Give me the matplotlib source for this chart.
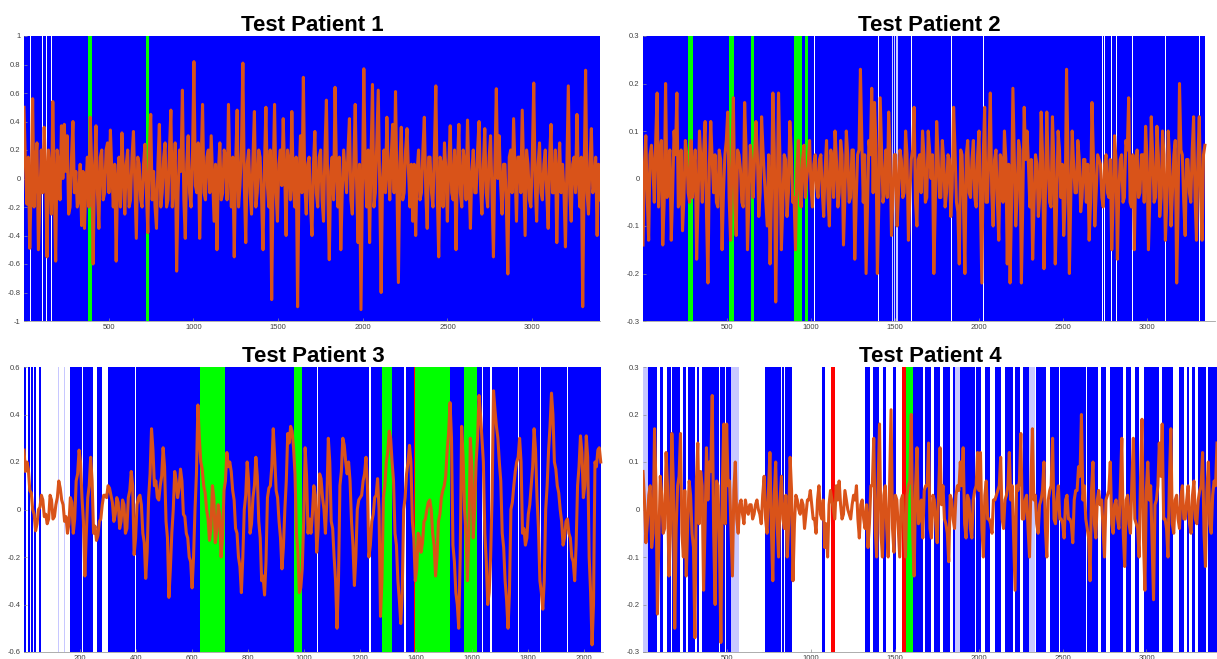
import numpy as np
import matplotlib
matplotlib.use('Agg')
from matplotlib import pyplot as plt

plt.rcParams['font.family'] = ['Liberation Sans', 'DejaVu Sans']
plt.rcParams['axes.unicode_minus'] = False

titles = ['Test Patient 1', 'Test Patient 2', 'Test Patient 3', 'Test Patient 4']

# signal samples (evenly spaced over each recording)
p1_len = 3400
p1 = [0.50, -0.18, -0.49, 0.56, 0.10, -0.50, 0.20, 0.36, -0.55, 0.05,
      0.54, -0.58, 0.10, 0.37, 0.38, 0.30, -0.20, 0.40, 0.05, -0.15,
      -0.33, -0.35, 0.15, 0.43, -0.60, 0.37, -0.35, 0.20, -0.10, 0.25,
      0.34, -0.20, -0.58, 0.15, 0.32, -0.25, 0.20, -0.15, 0.33, -0.42,
      0.10, -0.20, 0.24, -0.38, 0.45, 0.05, -0.35, 0.38, -0.10, 0.25,
      -0.15, 0.48, 0.00, -0.65, 0.20, 0.62, -0.42, 0.30, -0.20, 0.82,
      -0.10, -0.42, 0.52, -0.15, 0.20, 0.30, -0.30, -0.50, 0.25, -0.10,
      0.15, 0.52, -0.20, -0.55, 0.48, -0.05, 0.81, -0.45, 0.20, -0.25,
      0.47, -0.10, 0.15, -0.50, 0.50, -0.20, -0.85, 0.52, -0.30, 0.20,
      0.42, -0.40, 0.10, 0.47, -0.20, -0.90, 0.30, 0.71, -0.25, 0.15,
      -0.40, 0.33, -0.20, 0.20, -0.30, 0.55, -0.57, 0.15, 0.64, -0.20,
      -0.50, 0.20, -0.10, 0.42, -0.25, 0.52, -0.45, -0.92, 0.77, -0.20,
      -0.45, 0.66, -0.10, 0.62, -0.80, 0.20, 0.43, -0.15, 0.38, 0.61,
      -0.73, 0.36, -0.10, 0.35, -0.20, -0.30, -0.40, 0.20, -0.10, 0.43,
      -0.35, 0.15, -0.20, 0.65, -0.55, 0.10, 0.25, -0.30, 0.37, -0.15,
      -0.50, 0.38, -0.20, 0.10, 0.41, -0.35, 0.20, -0.10, 0.40, -0.25,
      0.35, -0.20, 0.30, -0.55, 0.63, 0.30, -0.25, 0.10, -0.67, 0.20,
      0.42, -0.30, 0.15, 0.48, -0.40, 0.10, -0.20, 0.67, -0.30, 0.25,
      -0.15, 0.20, -0.35, 0.38, -0.10, -0.45, 0.25, 0.10, -0.48, 0.65,
      -0.30, 0.15, 0.45, -0.20, -0.90, 0.76, -0.25, 0.35, -0.05, -0.40, -0.15]
# samples lying between the ones above
p1_mid = [0.10, 0.15, -0.05, -0.20, 0.25, -0.15, -0.10, 0.05, 0.20, -0.25,
          -0.05, 0.20, -0.15, 0.00, 0.05, -0.25, 0.15, -0.10, -0.20, 0.10,
          0.05, -0.05, -0.20, 0.10, 0.05, -0.10, 0.15, -0.15, 0.20, -0.10,
          0.05, 0.10, 0.00, -0.20, 0.05, 0.10, -0.20, 0.15, -0.05, 0.15,
          -0.15, 0.10, -0.10, 0.20, -0.15, -0.20, 0.10, -0.20, 0.15, -0.20,
          0.20, -0.20, 0.25, -0.10, 0.05, -0.15, 0.10, -0.10, 0.15, -0.05,
          0.25, 0.10, -0.10, 0.15, -0.10, 0.00, 0.10, 0.05, -0.15, 0.20,
          -0.15, 0.05, 0.15, 0.10, -0.20, 0.20, -0.05, 0.10, -0.10, 0.15,
          -0.20, 0.20, -0.15, 0.10, -0.05, 0.20, 0.00, -0.10, 0.10, -0.05,
          0.05, 0.20, -0.15, -0.05, 0.15, 0.00, -0.10, -0.05, 0.10, -0.20,
          0.10, -0.10, 0.15, -0.15, 0.20, -0.10, 0.05, -0.15, 0.05, 0.15,
          -0.10, 0.05, 0.20, -0.15, 0.10, -0.05, 0.10, -0.10, 0.05, 0.20,
          0.15, -0.20, 0.25, -0.05, 0.00, -0.10, 0.05, 0.15, -0.10, -0.05,
          0.10, -0.15, 0.20, 0.05, 0.10, 0.10, 0.05, -0.15, 0.20, -0.10,
          0.15, -0.10, 0.20, -0.10, 0.15, -0.20, 0.05, 0.10, -0.10, 0.20,
          0.10, -0.10, 0.20, -0.15, 0.00, 0.05, -0.10, 0.20, -0.05, 0.10,
          -0.10, 0.15, -0.10, 0.10, 0.00, -0.05, 0.10, -0.20, 0.15, -0.10,
          0.05, 0.15, -0.10, 0.05, 0.20, -0.15, 0.15, -0.05, 0.10, -0.10,
          0.10, -0.10, 0.15, -0.10, 0.20, 0.05, -0.10, -0.10, 0.10, -0.10,
          0.10, -0.10, 0.00, 0.15, 0.05, -0.10, 0.10, -0.10, 0.15, 0.10]

p2_len = 3345
p2 = [-0.14, 0.09, -0.13, 0.07, -0.05, 0.18, 0.05, -0.14, 0.20, 0.02,
      -0.13, 0.10, 0.18, -0.05, -0.11, 0.08, -0.03, 0.08, 0.02, -0.17,
      0.10, -0.05, 0.12, -0.22, 0.12, -0.03, -0.05, 0.06, -0.15, 0.05,
      0.14, -0.13, 0.17, -0.12, 0.05, -0.05, 0.16, -0.15, 0.07, -0.04,
      0.12, -0.08, 0.13, 0.00, -0.10, -0.18, 0.18, -0.26, 0.18, -0.15,
      0.05, -0.08, 0.12, -0.05, -0.15, 0.08, -0.06, 0.07, 0.00, 0.08,
      -0.06, 0.05, -0.04, 0.05, -0.08, 0.08, -0.10, 0.04, 0.10, -0.06,
      0.08, -0.14, 0.10, -0.05, 0.06, -0.17, 0.05, 0.23, -0.05, -0.20,
      0.08, 0.19, 0.16, -0.20, 0.17, -0.05, 0.06, 0.14, -0.12, 0.05,
      -0.10, 0.06, -0.04, 0.10, -0.13, 0.04, 0.15, -0.10, 0.05, 0.10,
      -0.05, 0.10, 0.00, -0.20, 0.12, -0.04, 0.08, -0.06, 0.05, -0.08,
      0.15, -0.05, -0.18, 0.05, -0.20, 0.08, -0.04, 0.08, -0.06, 0.10,
      -0.22, 0.15, -0.05, 0.18, -0.10, 0.06, -0.13, 0.04, 0.10, -0.18,
      -0.22, 0.19, -0.10, 0.08, -0.22, 0.15, 0.10, -0.06, -0.17, 0.05,
      -0.08, 0.14, -0.19, 0.14, -0.05, 0.13, -0.18, 0.10, -0.04, -0.12,
      0.23, -0.20, 0.10, -0.03, 0.08, -0.07, 0.04, -0.05, -0.13, 0.16,
      -0.10, 0.05, 0.03, -0.06, 0.05, -0.04, -0.15, 0.09, -0.17, 0.04,
      -0.05, 0.08, 0.17, -0.06, -0.15, 0.06, -0.03, 0.05, 0.11, -0.15,
      0.13, -0.05, 0.11, -0.08, 0.10, -0.13, 0.10, -0.10, 0.05, -0.22,
      0.20, 0.05, -0.12, 0.04, -0.05, 0.13, -0.13, 0.13, -0.13, 0.07]
p2_mid = [0.03, -0.04, 0.05, 0.02, 0.08, -0.06, 0.08, -0.05, -0.04, 0.06,
          -0.03, 0.05, -0.06, 0.06, -0.04, 0.05, -0.05, -0.04, 0.06, -0.05,
          0.04, 0.06, -0.08, 0.03, 0.04, 0.05, -0.06, 0.04, -0.03, 0.08,
          -0.04, 0.05, -0.05, 0.06, 0.02, -0.06, 0.06, -0.05, 0.03, 0.04,
          0.05, -0.03, 0.06, -0.05, 0.05, -0.04, 0.06, -0.05, 0.04, -0.06,
          0.04, -0.03, 0.06, -0.04, 0.02, -0.03, 0.04, -0.04, 0.03, -0.02,
          0.03, -0.02, 0.04, -0.03, 0.02, -0.04, 0.06, -0.04, 0.04, -0.03,
          0.05, -0.04, 0.05, -0.04, 0.06, -0.05, 0.06, 0.08, 0.05, -0.06,
          0.05, -0.03, 0.07, -0.06, 0.06, -0.02, -0.04, 0.05, -0.04, 0.05,
          -0.03, 0.04, -0.03, 0.05, -0.04, 0.06, -0.05, 0.04, -0.03, 0.05,
          -0.04, 0.06, 0.05, -0.06, 0.05, -0.04, 0.04, -0.03, 0.04, -0.02,
          0.06, -0.07, 0.06, -0.06, 0.05, -0.03, 0.04, -0.04, 0.05, -0.06,
          0.05, -0.05, 0.06, -0.03, 0.04, -0.05, 0.05, -0.05, 0.04, 0.03,
          -0.06, 0.05, -0.04, 0.06, -0.05, 0.04, 0.03, 0.04, -0.05, 0.03,
          -0.04, 0.05, -0.04, 0.03, -0.06, 0.04, -0.05, 0.06, 0.03, -0.05,
          0.05, -0.04, 0.03, -0.03, 0.04, -0.04, 0.04, 0.03, -0.05, 0.05,
          -0.03, 0.04, -0.04, 0.03, -0.03, 0.04, -0.05, 0.04, -0.03, 0.05,
          -0.04, 0.06, -0.05, 0.05, 0.03, -0.04, 0.05, -0.05, 0.04, -0.04,
          0.05, -0.04, 0.05, -0.04, 0.05, -0.05, 0.04, -0.03, 0.08, -0.06,
          0.06, -0.05, 0.04, -0.03, 0.06, -0.04, 0.04, -0.04, 0.05]

p3_len = 2060
p3 = [0.25, 0.20, 0.08, 0.00, -0.09, 0.00, 0.06, -0.03, -0.06, 0.06,
      -0.04, 0.02, 0.12, 0.04, -0.05, -0.10, 0.05, -0.10, 0.12, 0.25,
      0.05, -0.28, 0.05, 0.22, -0.10, -0.13, -0.05, 0.02, 0.06, 0.10,
      0.06, -0.05, 0.05, -0.08, 0.04, -0.10, 0.05, 0.16, -0.19, 0.02,
      0.06, -0.10, -0.29, 0.05, 0.34, 0.10, 0.05, 0.10, 0.26, -0.05,
      -0.37, -0.10, 0.16, 0.05, 0.17, -0.02, -0.10, -0.20, -0.33, 0.00,
      0.44, 0.20, 0.10, 0.00, -0.13, 0.10, -0.14, 0.02, -0.20, 0.08,
      0.24, 0.20, 0.08, -0.08, -0.20, -0.35, 0.00, 0.20, -0.10, 0.05,
      0.22, -0.05, -0.30, -0.36, 0.05, 0.10, 0.34, 0.08, -0.05, -0.25,
      0.00, 0.32, 0.35, 0.26, -0.10, -0.35, -0.25, 0.26, -0.10, -0.10,
      0.10, -0.18, 0.15, 0.05, -0.10, 0.30, -0.05, -0.20, -0.50, 0.10,
      0.30, 0.20, 0.20, -0.05, -0.32, 0.00, 0.05, 0.12, 0.22, -0.20,
      -0.05, 0.05, 0.13, -0.45, 0.05, 0.20, 0.33, 0.20, -0.10, -0.30,
      -0.48, 0.00, 0.15, 0.27, -0.05, -0.30, -0.10, -0.18, -0.05, 0.00,
      0.04, -0.10, -0.28, -0.05, 0.05, 0.10, 0.25, 0.45, -0.15, -0.35,
      -0.50, 0.35, 0.00, -0.30, 0.30, -0.12, 0.20, 0.48, 0.30, -0.10,
      -0.40, -0.20, 0.50, 0.35, 0.20, -0.10, -0.30, -0.50, 0.00, 0.10,
      0.20, 0.30, -0.10, -0.15, -0.02, 0.10, 0.34, 0.05, -0.30, -0.42,
      0.00, 0.25, 0.49, 0.20, 0.10, 0.00, -0.15, -0.05, -0.10, -0.20,
      -0.30, 0.10, 0.31, 0.05, 0.31, -0.20, -0.57, 0.20, 0.25, 0.20]
p3_mid = [0.16, 0.17, 0.07, -0.02, -0.06, 0.01, 0.04, -0.02, -0.04, 0.04,
          -0.03, 0.05, 0.09, 0.02, -0.03, -0.06, 0.03, -0.04, 0.15, 0.20,
          -0.05, -0.10, 0.10, 0.12, -0.07, -0.11, -0.04, 0.06, 0.05, 0.09,
          0.03, -0.02, 0.03, -0.05, 0.02, -0.08, 0.08, 0.10, -0.12, 0.05,
          0.02, -0.14, -0.18, 0.15, 0.25, 0.12, 0.04, 0.14, 0.18, -0.12,
          -0.25, 0.00, 0.12, 0.09, 0.12, -0.03, -0.12, -0.22, -0.20, 0.15,
          0.30, 0.17, 0.07, -0.04, -0.08, 0.05, -0.09, -0.02, -0.12, 0.12,
          0.18, 0.16, 0.04, -0.10, -0.24, -0.20, 0.06, 0.12, -0.06, 0.10,
          0.14, -0.12, -0.28, -0.22, 0.09, 0.18, 0.22, 0.05, -0.12, -0.16,
          0.12, 0.28, 0.33, 0.15, -0.18, -0.33, -0.05, 0.14, -0.04, -0.02,
          0.06, -0.08, 0.13, 0.00, 0.04, 0.20, -0.08, -0.30, -0.30, 0.16,
          0.27, 0.15, 0.12, -0.15, -0.20, 0.04, 0.06, 0.15, 0.10, -0.15,
          -0.02, 0.06, 0.00, -0.30, 0.10, 0.24, 0.30, 0.12, -0.15, -0.38,
          -0.35, 0.05, 0.20, 0.20, -0.12, -0.25, -0.12, -0.14, -0.04, 0.03,
          0.00, -0.15, -0.20, -0.02, 0.08, 0.14, 0.32, 0.30, -0.22, -0.40,
          -0.20, 0.22, -0.10, -0.10, 0.18, 0.00, 0.30, 0.40, 0.20, -0.22,
          -0.35, 0.05, 0.42, 0.30, 0.12, -0.16, -0.38, -0.35, 0.03, 0.16,
          0.22, 0.20, -0.08, -0.12, 0.02, 0.18, 0.25, -0.08, -0.35, -0.30,
          0.10, 0.35, 0.40, 0.17, 0.07, -0.05, -0.12, -0.04, -0.12, -0.22,
          -0.15, 0.18, 0.24, 0.10, 0.22, -0.35, -0.40, 0.18, 0.26]

p4_len = 3420
p4 = [0.08, -0.07, 0.03, -0.08, 0.17, -0.22, 0.07, -0.05, 0.12, -0.14,
      0.16, -0.25, 0.05, 0.16, -0.10, -0.14, 0.06, -0.05, -0.27, 0.14,
      0.08, -0.17, 0.13, 0.10, 0.24, -0.20, 0.05, -0.28, 0.18, 0.18,
      0.06, -0.14, 0.10, -0.05, 0.02, -0.03, 0.00, 0.01, -0.02, 0.01,
      0.00, -0.03, 0.07, -0.05, 0.12, -0.15, 0.10, -0.10, 0.07, -0.04,
      -0.10, 0.11, -0.15, 0.03, 0.00, 0.02, -0.04, 0.02, 0.04, -0.02,
      -0.05, 0.05, -0.02, -0.08, -0.10, 0.04, 0.00, 0.05, 0.06, -0.02,
      0.04, 0.00, -0.02, 0.03, 0.05, -0.06, 0.02, -0.04, -0.08, 0.05,
      0.15, -0.10, 0.18, -0.10, 0.05, -0.10, 0.21, -0.09, 0.02, -0.10,
      0.03, -0.10, 0.05, 0.20, -0.14, 0.13, -0.02, -0.06, 0.05, 0.14,
      -0.06, 0.02, -0.07, 0.13, 0.05, -0.03, -0.11, 0.02, -0.04, 0.05,
      0.10, 0.13, -0.06, 0.02, -0.06, 0.04, 0.12, 0.12, -0.10, 0.06,
      -0.02, -0.05, 0.02, 0.04, 0.11, -0.04, 0.03, 0.12, 0.05, -0.17,
      0.04, 0.16, -0.02, 0.03, -0.10, 0.17, 0.03, -0.05, 0.02, 0.10,
      -0.10, 0.04, 0.15, -0.03, 0.05, -0.02, -0.06, 0.03, -0.02, -0.07,
      0.04, 0.09, 0.20, 0.05, -0.04, -0.15, 0.10, -0.06, 0.04, 0.02,
      -0.10, 0.03, 0.10, -0.05, 0.02, -0.04, 0.15, -0.12, 0.03, -0.05,
      0.15, -0.03, -0.10, 0.19, -0.17, 0.10, 0.05, -0.19, 0.02, 0.14,
      0.18, -0.02, -0.10, 0.17, -0.05, 0.03, -0.04, 0.05, -0.02, 0.05,
      -0.05, 0.06, -0.03, 0.04, 0.12, -0.12, 0.10, -0.05, 0.06, 0.14]
p4_mid = [0.02, -0.03, 0.05, -0.05, 0.05, -0.06, 0.03, -0.04, 0.05, -0.05,
          0.06, -0.04, 0.07, -0.05, 0.04, -0.03, 0.03, -0.08, 0.06, -0.03,
          0.05, -0.04, 0.02, 0.08, -0.05, 0.06, -0.07, 0.05, -0.03, 0.05,
          -0.04, 0.04, -0.02, 0.01, -0.01, 0.02, -0.01, 0.01, -0.01, 0.02,
          -0.01, 0.03, -0.02, 0.04, -0.04, 0.03, -0.03, 0.02, -0.02, 0.03,
          -0.03, 0.04, -0.03, 0.02, -0.01, 0.01, -0.01, 0.02, 0.01, -0.02,
          0.02, -0.01, 0.02, -0.03, 0.01, 0.02, -0.02, 0.02, 0.01, -0.01,
          0.02, -0.01, 0.01, 0.02, -0.02, 0.01, -0.02, 0.01, -0.03, 0.05,
          -0.04, 0.05, -0.05, 0.03, -0.04, 0.06, -0.04, 0.03, -0.04, 0.02,
          -0.04, 0.03, 0.06, -0.05, 0.05, -0.03, 0.02, 0.04, 0.05, -0.04,
          0.03, -0.03, 0.04, 0.01, -0.02, -0.05, 0.03, -0.02, 0.03, 0.04,
          0.05, -0.03, 0.03, -0.04, 0.02, 0.05, 0.04, -0.04, 0.03, -0.02,
          -0.03, 0.02, 0.03, 0.05, -0.02, 0.02, 0.05, 0.02, -0.06, 0.05,
          0.06, -0.02, 0.02, -0.04, 0.06, 0.02, -0.03, 0.01, 0.04, -0.04,
          0.02, 0.05, -0.02, 0.02, -0.02, -0.03, 0.02, -0.02, -0.03, 0.02,
          0.04, 0.07, 0.02, -0.02, -0.06, 0.04, -0.03, 0.02, 0.01, -0.04,
          0.02, 0.04, -0.03, 0.01, -0.02, 0.05, -0.05, 0.02, -0.03, 0.06,
          -0.02, -0.04, 0.07, -0.06, 0.04, 0.02, -0.07, 0.01, 0.05, 0.07,
          -0.02, -0.04, 0.06, -0.03, 0.02, -0.02, 0.03, -0.02, 0.02, -0.03,
          0.03, -0.02, 0.02, 0.05, -0.05, 0.04, -0.03, 0.03, 0.05]

# state labels over time: blue / green / red spans, pale = faint label
p1_blue = [(0, 37), (41, 108), (112, 131), (135, 161), (165, 259), (263, 378),
           (402, 718), (737, 3400)]
p1_green = [(378, 402), (718, 737)]
p1_red = []
p1_pale = []

p2_blue = [(0, 40), (44, 992), (996, 1018), (1022, 1047), (1051, 1190), (1194, 1385),
           (1389, 1401), (1405, 1482), (1490, 1495), (1502, 1508), (1520, 1597),
           (1601, 1611), (1615, 1835), (1839, 2024), (2028, 2665), (2669, 2734),
           (2738, 2744), (2748, 2768), (2771, 2788), (2791, 2818), (2821, 2837),
           (2840, 2913), (2917, 3109), (3113, 3155), (3158, 3208), (3211, 3309),
           (3313, 3345)]
p2_green = [(270, 300), (514, 542), (645, 663), (901, 950), (964, 982)]
p2_red = []
p2_pale = [(1482, 1520)]

p3_blue = [(0, 8), (14, 21), (27, 33), (38, 45), (53, 61), (166, 208), (212, 246),
           (262, 279), (300, 398), (402, 628), (719, 966), (992, 1047), (1051, 1234),
           (1238, 1279), (1315, 1359), (1363, 1392), (1523, 1570), (1618, 1636),
           (1640, 1666), (1670, 1763), (1767, 1842), (1846, 1938), (1942, 2060)]
p3_green = [(628, 719), (966, 992), (1279, 1315), (1396, 1523), (1570, 1618)]
p3_red = [(1392, 1396)]
p3_pale = [(121, 125), (145, 149)]

p4_blue = [(32, 58), (62, 87), (105, 121), (141, 167), (175, 224), (240, 256),
           (270, 311), (323, 335), (351, 381), (383, 421), (423, 456), (458, 491),
           (493, 528), (730, 773), (777, 803), (807, 823), (827, 843), (847, 863),
           (867, 891), (1070, 1083), (1321, 1355), (1371, 1407), (1431, 1450),
           (1490, 1510), (1608, 1669), (1679, 1718), (1732, 1772), (1788, 1827),
           (1847, 1857), (1887, 1976), (1986, 2016), (2036, 2065), (2095, 2135),
           (2155, 2204), (2214, 2244), (2264, 2303), (2343, 2403), (2423, 2481),
           (2483, 2561), (2563, 2641), (2643, 2710), (2730, 2760), (2780, 2859),
           (2879, 2909), (2929, 2958), (2988, 3077), (3093, 3157), (3196, 3226),
           (3240, 3256), (3272, 3291), (3305, 3355), (3365, 3420)]
p4_green = [(1565, 1608)]
p4_red = [(1120, 1145), (1545, 1565)]
p4_pale = [(0, 32), (528, 573), (1857, 1887), (2303, 2333)]

p1_yt = [-1, -0.8, -0.6, -0.4, -0.2, 0, 0.2, 0.4, 0.6, 0.8, 1]
p2_yt = [-0.3, -0.2, -0.1, 0, 0.1, 0.2, 0.3]
p3_yt = [-0.6, -0.4, -0.2, 0, 0.2, 0.4, 0.6]
p4_yt = [-0.3, -0.2, -0.1, 0, 0.1, 0.2, 0.3]
p1_xt = [500, 1000, 1500, 2000, 2500, 3000]
p2_xt = [500, 1000, 1500, 2000, 2500, 3000]
p3_xt = [200, 400, 600, 800, 1000, 1200, 1400, 1600, 1800, 2000]
p4_xt = [500, 1000, 1500, 2000, 2500, 3000]


def interleave(main, mid):
    out = []
    for i, v in enumerate(main):
        out.append(v)
        if i < len(mid) and i < len(main) - 1:
            out.append(mid[i])
    return out


W, H = 1217, 659
fig = plt.figure(figsize=(W / 100, H / 100), dpi=100)

panels = [
    ([24 / W, 1 - 321 / H, 576 / W, 285 / H], p1, p1_mid, p1_len, 3400, (-1, 1), p1_yt, p1_xt,
     p1_blue, p1_green, p1_red, p1_pale),
    ([643 / W, 1 - 321 / H, 572 / W, 285 / H], p2, p2_mid, p2_len, 3405, (-0.3, 0.3), p2_yt, p2_xt,
     p2_blue, p2_green, p2_red, p2_pale),
    ([24 / W, 1 - 652 / H, 579 / W, 285 / H], p3, p3_mid, p3_len, 2068, (-0.6, 0.6), p3_yt, p3_xt,
     p3_blue, p3_green, p3_red, p3_pale),
    ([643 / W, 1 - 652 / H, 574 / W, 285 / H], p4, p4_mid, p4_len, 3420, (-0.3, 0.3), p4_yt, p4_xt,
     p4_blue, p4_green, p4_red, p4_pale),
]

for k, (pos, main, mid, n, xmax, ylim, yt, xt, blue, green, red, pale) in enumerate(panels):
    ax = fig.add_axes(pos)
    for s, e in pale:
        ax.axvspan(s, e, color='#c8c8ff', lw=0, zorder=1)
    for s, e in blue:
        ax.axvspan(s, e, color='#0000ff', lw=0, zorder=1)
    for s, e in green:
        ax.axvspan(s, e, color='#00ff00', lw=0, zorder=1.1)
    for s, e in red:
        ax.axvspan(s, e, color='#ff0000', lw=0, zorder=1.1)

    vals = interleave(main, mid)
    x = np.linspace(1, n, len(vals))
    ax.plot(x, vals, color='#d95319', lw=2.2, zorder=3)

    ax.set_xlim(1, xmax)
    ax.set_ylim(*ylim)
    ax.set_yticks(yt)
    ax.set_yticklabels(['%g' % v for v in yt])
    ax.set_xticks(xt)
    ax.set_xticklabels([str(v) for v in xt])
    ax.tick_params(direction='in', length=2.5, width=0.5, color='#909090',
                   labelsize=5.5, labelcolor='#404040', pad=2.5)
    for side in ['top', 'right']:
        ax.spines[side].set_visible(False)
    for side in ['left', 'bottom']:
        ax.spines[side].set_color('#a0a0a0')
        ax.spines[side].set_linewidth(0.6)
        ax.spines[side].set_zorder(0.5)
    ax.set_title(titles[k], fontsize=16, fontweight='bold', pad=3)

fig.savefig('out.png', dpi=100)
